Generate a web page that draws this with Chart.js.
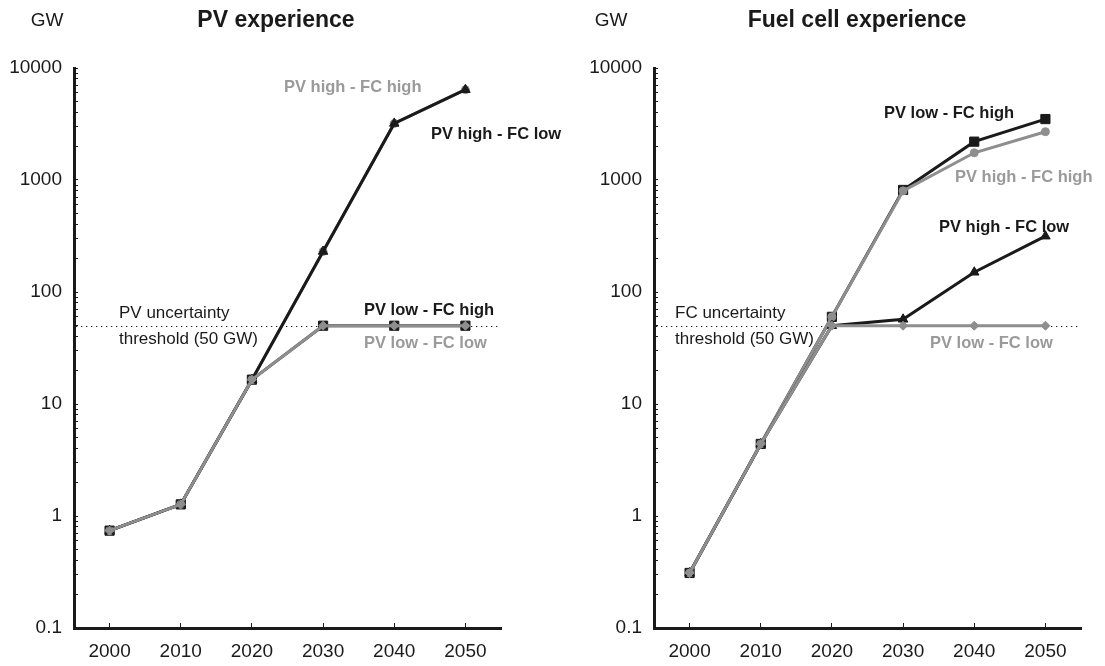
<!DOCTYPE html>
<html><head><meta charset="utf-8">
<script src="https://cdn.jsdelivr.net/npm/chart.js@4/dist/chart.umd.min.js"></script>
<style>
html,body{margin:0;padding:0;background:#fff;width:1105px;height:666px;overflow:hidden;}
#w1{position:absolute;left:0;top:0;width:580px;height:666px;}
#w2{position:absolute;left:580px;top:0;width:525px;height:666px;}
</style></head><body>
<div id="w1"><canvas id="c1"></canvas></div>
<div id="w2"><canvas id="c2"></canvas></div>
<script>
// ---- data ----
const years = ['2000', '2010', '2020', '2030', '2040', '2050'];
const yMajorTicks = [0.1, 1, 10, 100, 1000, 10000];
const yMajorLabels = ['0.1', '1', '10', '100', '1000', '10000'];
const yMinorMultipliers = [2, 3, 4, 5, 6, 7, 8, 9];
const seriesNames = ['PV high - FC high', 'PV high - FC low', 'PV low - FC high', 'PV low - FC low'];
const threshold = 50;

// PV experience panel
const pv_pvHighFcHigh = [0.74, 1.27, 16.5, 230, 3200, 6400];
const pv_pvHighFcLow  = [0.74, 1.27, 16.5, 230, 3200, 6400];
const pv_pvLowFcHigh  = [0.74, 1.27, 16.5, 50, 50, 50];
const pv_pvLowFcLow   = [0.74, 1.27, 16.5, 50, 50, 50];

// Fuel cell experience panel
const fc_pvHighFcHigh = [0.31, 4.4, 60, 800, 1750, 2700];
const fc_pvHighFcLow  = [0.31, 4.4, 50, 57, 150, 315];
const fc_pvLowFcHigh  = [0.31, 4.4, 60, 815, 2200, 3500];
const fc_pvLowFcLow   = [0.31, 4.4, 50, 50, 50, 50];

// ---- styling ----
const BLACK = '#1a1a1a';
const GRAY = '#8e8e8e';
const LABEL_GRAY = '#9a9a9a';
const FONT = '"Liberation Sans", Arial, Helvetica, sans-serif';

function yTickValues() {
  const vals = [];
  for (let i = 0; i < yMajorTicks.length; i++) {
    vals.push(yMajorTicks[i]);
    if (i < yMajorTicks.length - 1) {
      yMinorMultipliers.forEach(m => vals.push(+(yMajorTicks[i] * m).toPrecision(3)));
    }
  }
  return vals;
}

function ds(label, data, color, style, radius, order) {
  return {
    label, data,
    borderColor: color, backgroundColor: color,
    pointBackgroundColor: color, pointBorderColor: color,
    borderWidth: 3, pointStyle: style, pointRadius: radius, pointBorderWidth: 1,
    tension: 0, order, clip: false
  };
}

function makeChart(id, arrays, padRight, cfg) {
  const overlay = {
    id: 'overlay' + id,
    beforeDatasetsDraw(chart) {
      const ctx = chart.ctx, y = chart.scales.y, a = chart.chartArea;
      const py = Math.round(y.getPixelForValue(threshold)) + 0.5;
      ctx.save();
      ctx.strokeStyle = BLACK; ctx.lineWidth = 1.2; ctx.setLineDash([1.3, 3.7]);
      ctx.beginPath(); ctx.moveTo(a.left + 2, py); ctx.lineTo(a.right, py); ctx.stroke();
      ctx.restore();
    },
    afterDraw(chart) {
      const ctx = chart.ctx;
      ctx.save();
      ctx.textBaseline = 'middle';
      // unit + title
      ctx.fillStyle = BLACK;
      ctx.font = '19px ' + FONT; ctx.textAlign = 'center';
      ctx.fillText('GW', cfg.gwX, 21);
      ctx.font = 'bold 23px ' + FONT;
      ctx.fillText(cfg.title, cfg.titleX, 21);
      // threshold label
      ctx.textAlign = 'left'; ctx.font = '17px ' + FONT;
      ctx.fillText(cfg.thr[0], cfg.thrX, 313);
      ctx.fillText(cfg.thr[1], cfg.thrX, 339);
      // series labels
      ctx.font = 'bold 16.5px ' + FONT;
      cfg.labels.forEach(l => {
        ctx.fillStyle = l.c; ctx.textAlign = 'left';
        ctx.fillText(seriesNames[l.s], l.x, l.y);
      });
      ctx.restore();
    }
  };
  return new Chart(document.getElementById(id), {
    type: 'line',
    data: {
      labels: years,
      datasets: [
        ds(seriesNames[0], arrays[0], GRAY, 'circle', 4, 2),
        ds(seriesNames[1], arrays[1], BLACK, 'triangle', 5.5, 1),
        ds(seriesNames[2], arrays[2], BLACK, 'rect', 6.5, 3),
        ds(seriesNames[3], arrays[3], GRAY, 'rectRot', 4.5, 0)
      ]
    },
    options: {
      responsive: true, maintainAspectRatio: false, animation: false, devicePixelRatio: 1,
      layout: { padding: { left: 0, top: 68, right: padRight, bottom: 0 } },
      plugins: { legend: { display: false }, tooltip: { enabled: false }, title: { display: false } },
      scales: {
        x: {
          type: 'category', offset: true,
          border: { display: true, color: BLACK, width: 3 },
          grid: { display: true, drawOnChartArea: false, drawTicks: true, tickLength: -5, offset: false, color: BLACK, lineWidth: 1 },
          ticks: { color: BLACK, font: { family: FONT, size: 19 }, padding: 17, maxRotation: 0, autoSkip: false },
          afterFit(s) { s.height = 38; }
        },
        y: {
          type: 'logarithmic', min: 0.1, max: 10000,
          border: { display: true, color: BLACK, width: 3 },
          grid: { display: true, drawOnChartArea: false, drawTicks: true, tickLength: -4, color: BLACK, lineWidth: 1 },
          ticks: {
            color: BLACK, font: { family: FONT, size: 19 }, padding: 16, autoSkip: false,
            callback(v) { const i = yMajorTicks.indexOf(v); return i >= 0 ? yMajorLabels[i] : ''; }
          },
          afterBuildTicks(s) { s.ticks = yTickValues().map(v => ({ value: v, major: yMajorTicks.includes(v) })); },
          afterFit(s) { s.width = 74; }
        }
      }
    },
    plugins: [overlay]
  });
}

makeChart('c1', [pv_pvHighFcHigh, pv_pvHighFcLow, pv_pvLowFcHigh, pv_pvLowFcLow], 79, {
  title: 'PV experience', titleX: 276, gwX: 47,
  thr: ['PV uncertainty', 'threshold (50 GW)'], thrX: 119,
  labels: [
    { s: 0, x: 284, y: 87, c: LABEL_GRAY },
    { s: 1, x: 431, y: 134, c: BLACK },
    { s: 2, x: 364, y: 310, c: BLACK },
    { s: 3, x: 364, y: 343, c: LABEL_GRAY }
  ]
});
makeChart('c2', [fc_pvHighFcHigh, fc_pvHighFcLow, fc_pvLowFcHigh, fc_pvLowFcLow], 24, {
  title: 'Fuel cell experience', titleX: 277, gwX: 31,
  thr: ['FC uncertainty', 'threshold (50 GW)'], thrX: 95,
  labels: [
    { s: 2, x: 304, y: 113, c: BLACK },
    { s: 0, x: 375, y: 177, c: LABEL_GRAY },
    { s: 1, x: 359, y: 227, c: BLACK },
    { s: 3, x: 350, y: 343, c: LABEL_GRAY }
  ]
});
</script>
</body></html>
